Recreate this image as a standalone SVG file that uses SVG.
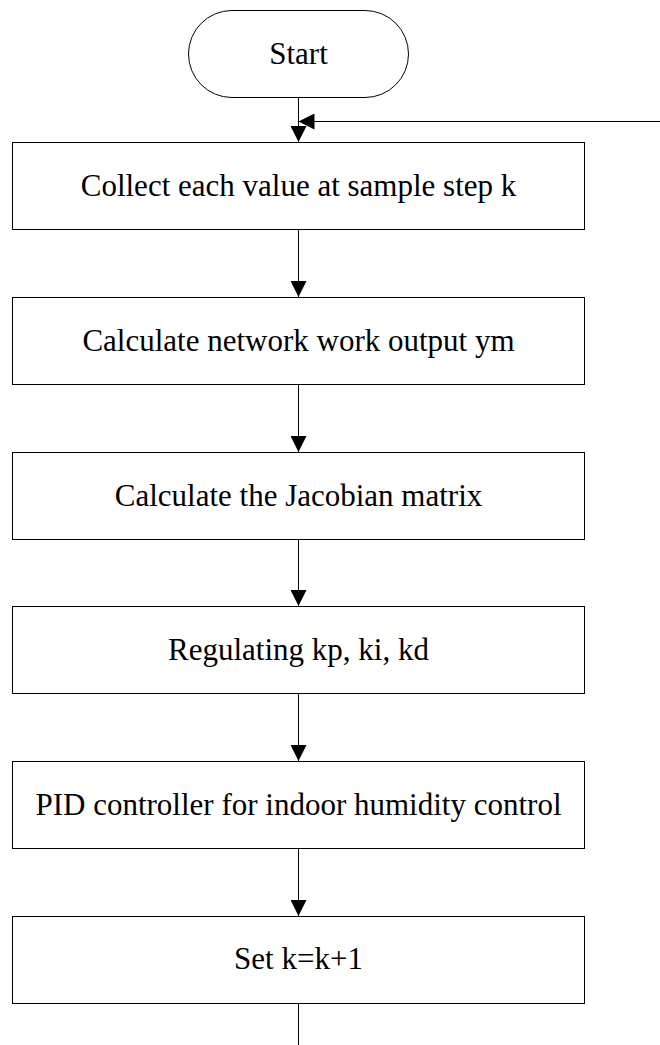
<svg xmlns="http://www.w3.org/2000/svg" width="660" height="1045" viewBox="0 0 660 1045">
<style>
.box{fill:#fff;stroke:#000;stroke-width:1}
.lbl{font-family:"Liberation Serif","Times New Roman",serif;font-size:31px;fill:#000;text-anchor:middle}
.conn{stroke:#000;stroke-width:1;fill:none}
</style>
<defs>
<marker id="ah" viewBox="0 0 16 16" markerWidth="16" markerHeight="16" refX="16" refY="8" orient="auto" markerUnits="userSpaceOnUse">
<path d="M0,0 L16,8 L0,16 z" fill="#000"/>
</marker>
</defs>
<rect width="660" height="1045" fill="#fff"/>
<g id="connectors">
<line class="conn" x1="298.5" y1="98" x2="298.5" y2="142" marker-end="url(#ah)"/>
<line class="conn" x1="660" y1="121.5" x2="298.5" y2="121.5" marker-end="url(#ah)"/>
<line class="conn" x1="298.5" y1="229" x2="298.5" y2="297" marker-end="url(#ah)"/>
<line class="conn" x1="298.5" y1="384" x2="298.5" y2="452" marker-end="url(#ah)"/>
<line class="conn" x1="298.5" y1="539" x2="298.5" y2="606" marker-end="url(#ah)"/>
<line class="conn" x1="298.5" y1="693" x2="298.5" y2="761" marker-end="url(#ah)"/>
<line class="conn" x1="298.5" y1="848" x2="298.5" y2="916" marker-end="url(#ah)"/>
<line class="conn" x1="298.5" y1="1003" x2="298.5" y2="1045"/>
</g>
<g id="start">
<rect class="box" x="188.5" y="10.5" width="220" height="87" rx="43.5" ry="43.5"/>
<text class="lbl" x="298.5" y="63.5">Start</text>
</g>
<g id="collect">
<rect class="box" x="12.5" y="142.5" width="572" height="87"/>
<text class="lbl" x="298.5" y="195.5">Collect each value at sample step k</text>
</g>
<g id="network">
<rect class="box" x="12.5" y="297.5" width="572" height="87"/>
<text class="lbl" x="298.5" y="350.5">Calculate network work output ym</text>
</g>
<g id="jacobian">
<rect class="box" x="12.5" y="452.5" width="572" height="87"/>
<text class="lbl" x="298.5" y="505.5">Calculate the Jacobian matrix</text>
</g>
<g id="regulating">
<rect class="box" x="12.5" y="606.5" width="572" height="87"/>
<text class="lbl" x="298.5" y="659.5">Regulating kp, ki, kd</text>
</g>
<g id="pid">
<rect class="box" x="12.5" y="761.5" width="572" height="87"/>
<text class="lbl" x="298.5" y="814.5">PID controller for indoor humidity control</text>
</g>
<g id="setk">
<rect class="box" x="12.5" y="916.5" width="572" height="87"/>
<text class="lbl" x="298.5" y="969">Set k=k+1</text>
</g>
</svg>
